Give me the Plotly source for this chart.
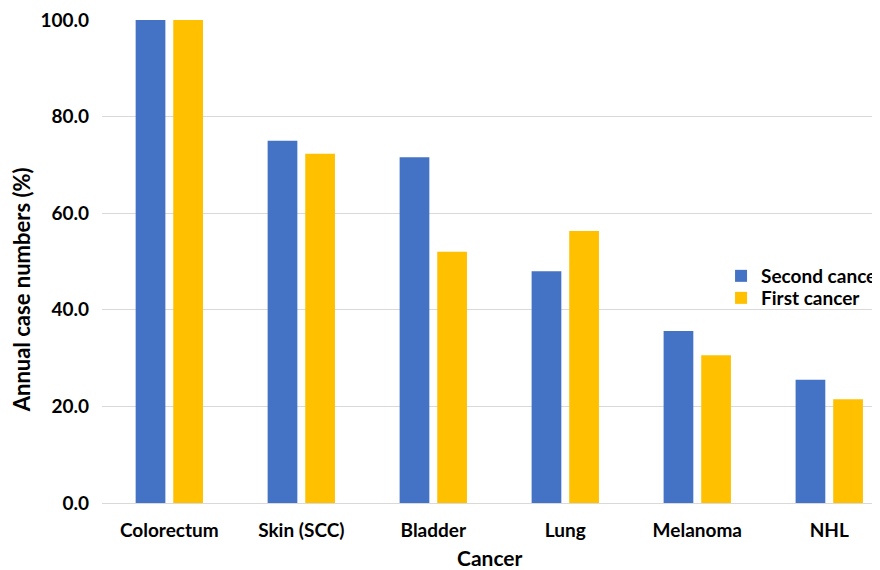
import plotly.graph_objects as go

categories = ["Colorectum", "Skin (SCC)", "Bladder", "Lung", "Melanoma", "NHL"]
second_cancer = [100.0, 75.0, 71.6, 48.0, 35.6, 25.5]
first_cancer = [100.0, 72.3, 52.0, 56.3, 30.6, 21.5]
y_ticks = [0, 20, 40, 60, 80, 100]
y_tick_labels = ["0.0", "20.0", "40.0", "60.0", "80.0", "100.0"]

FONT = "Lato"
TICK = dict(family=FONT, size=19, color="#000000", weight="bold")
TITLE = dict(family=FONT, size=21, color="#000000", weight="bold")
YTITLE = dict(family=FONT, size=22, color="#000000", weight="bold")

fig = go.Figure()
fig.add_trace(go.Bar(x=categories, y=second_cancer, name="Second cancer",
                     marker=dict(color="#4472C4", line=dict(width=0)), legend="legend"))
fig.add_trace(go.Bar(x=categories, y=first_cancer, name="First cancer",
                     marker=dict(color="#FFC000", line=dict(width=0)), legend="legend2"))

leg_common = dict(xanchor="left", yanchor="middle", font=TICK,
                  bgcolor="rgba(0,0,0,0)", itemwidth=30, tracegroupgap=0)

fig.update_layout(
    width=880, height=570,
    margin=dict(l=94, r=0, t=12, b=75, autoexpand=False),
    paper_bgcolor="white", plot_bgcolor="white",
    barmode="group", bargap=0.43, bargroupgap=0.21,
    font=dict(family=FONT, size=19, color="#000000"),
    showlegend=True,
    legend=dict(x=0.7876, y=0.47, **leg_common),
    legend2=dict(x=0.7876, y=0.4244, **leg_common),
    annotations=[
        dict(text="Annual case numbers (%)", xref="paper", yref="paper",
             x=-0.1015, y=0.441, xanchor="center", yanchor="middle",
             textangle=-90, showarrow=False, font=YTITLE),
        dict(text="Cancer", xref="paper", yref="paper",
             x=0.4936, y=-0.112, xanchor="center", yanchor="middle",
             showarrow=False, font=TITLE),
    ],
)
fig.update_xaxes(
    range=[-0.51, 5.445], showgrid=False, showline=False, zeroline=False,
    tickfont=TICK, ticks="", ticklen=0, ticklabelstandoff=14,
)
fig.update_yaxes(
    range=[0, 100], tickvals=y_ticks, ticktext=y_tick_labels,
    showgrid=True, gridcolor="#D9D9D9", gridwidth=1.3,
    zeroline=True, zerolinecolor="#D9D9D9", zerolinewidth=1.3,
    showline=False, ticks="", ticklabeloverflow="allow",
    tickfont=TICK, ticklabelstandoff=12,
)

fig.write_html("out.html")
